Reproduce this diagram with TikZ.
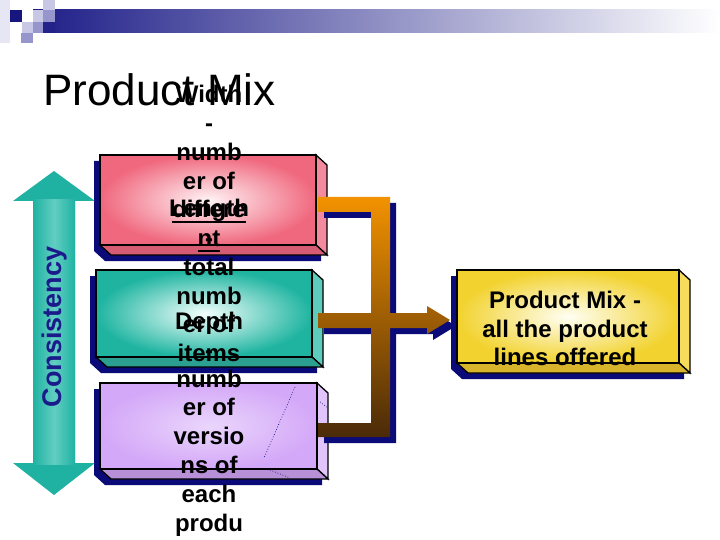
\documentclass[tikz,border=0pt]{standalone}
\usepackage{fontspec}
\setmainfont{Liberation Sans}
\usetikzlibrary{calc}
\definecolor{navyS}{HTML}{0A0A78}
\definecolor{bannerN}{HTML}{1E1E88}
\definecolor{bannerM}{HTML}{A8A8C0}
\definecolor{sqA}{HTML}{E6E6F4}
\definecolor{sqB}{HTML}{16167E}
\definecolor{sqC}{HTML}{C8C8E6}
\definecolor{sqD}{HTML}{9696CC}
\definecolor{sqE}{HTML}{22228A}
\definecolor{pinkO}{HTML}{F0687E}
\definecolor{pinkI}{HTML}{FFF4F6}
\definecolor{pinkS}{HTML}{F48A9E}
\definecolor{pinkB}{HTML}{D65C74}
\definecolor{tealO}{HTML}{1EB4A0}
\definecolor{tealI}{HTML}{F4FFFD}
\definecolor{tealS}{HTML}{5ECCBC}
\definecolor{tealB}{HTML}{2CA090}
\definecolor{vioO}{HTML}{D4A8F8}
\definecolor{vioI}{HTML}{EAD6FC}
\definecolor{vioS}{HTML}{E0C4FA}
\definecolor{vioB}{HTML}{B890D8}
\definecolor{yelO}{HTML}{F2D22E}
\definecolor{yelI}{HTML}{FFFFF4}
\definecolor{yelS}{HTML}{F6DC5A}
\definecolor{yelB}{HTML}{D8B42C}
\definecolor{arrT}{HTML}{1FB2A2}
\definecolor{arrL}{HTML}{62CEC2}
\definecolor{consist}{HTML}{1A1A8A}
\definecolor{barTop}{HTML}{F29200}
\definecolor{barBot}{HTML}{4A2A08}
\newcommand{\myul}[1]{\leavevmode\setbox0=\hbox{#1}\rlap{\vrule height -3.5pt depth 5.5pt width \wd0}\box0}
\tikzset{
  coltext/.style={font=\bfseries\fontsize{24}{28.8}\selectfont, anchor=base, inner sep=0pt},
  edge3d/.style={draw=black, line width=1.3pt, line join=miter},
}
\newcommand{\cubebox}[9]{%
  \fill[navyS] ({#2-6},{#3+6}) -- ({#4-6},{#3+6}) -- ({#4+5},{#3+16}) -- ({#4+5},{#5+16}) -- ({#2+5},{#5+16}) -- ({#2-6},{#5+6}) -- cycle;
  \filldraw[edge3d, fill=#8] (#4,#3) -- ({#4+11},{#3+10}) -- ({#4+11},{#5+10}) -- (#4,#5) -- cycle;
  \filldraw[edge3d, fill=#9] (#2,#5) -- (#4,#5) -- ({#4+11},{#5+10}) -- ({#2+11},{#5+10}) -- cycle;
  \node[edge3d, inner sep=0pt, outer sep=0pt, anchor=north west, minimum width={(#4-#2)*1pt}, minimum height={(#5-#3)*1pt}, inner color=#7, outer color=#6] (#1) at (#2,#3) {};
}
\begin{document}
\begin{tikzpicture}[x=1pt, y=-1pt]
\useasboundingbox (0,0) rectangle (720,540);
\fill[white] (0,0) rectangle (720,540);
% banner
\shade[left color=bannerN, middle color=bannerM, right color=white] (33,10) rectangle (720,33);
\fill[sqA] (0,0) rectangle (10,43);
\fill[sqB] (10,10) rectangle (22,22);
\fill[sqC] (22,22) rectangle (33,33);
\fill[sqD] (21,33) rectangle (33,43);
\fill[sqC] (33,10) rectangle (43,22);
\fill[sqD] (43,10) rectangle (55,22);
\fill[sqC] (43,0) rectangle (55,10);
\fill[sqD] (33,22) rectangle (43,33);
\fill[sqE] (43,22) rectangle (55,33);
% title
\node[anchor=base west, inner sep=0pt, font=\fontsize{44}{52}\selectfont] (title) at (43,106) {Product Mix};
% consistency arrow
\fill[arrT] (54,171) -- (95,201) -- (75,201) -- (75,463) -- (95,463) -- (54,495) -- (13,463) -- (33,463) -- (33,201) -- (13,201) -- cycle;
\shade[left color=arrT, right color=arrL] (33,200) rectangle (54.5,464);
\shade[left color=arrL, right color=arrT] (54,200) rectangle (75,464);
\node[rotate=90, inner sep=0pt, font=\bfseries\fontsize{27}{32}\selectfont, text=consist] (cons) at (55,327) {Consistency};
% pink box + Width text
\cubebox{pinkbox}{100}{155}{316}{245}{pinkO}{pinkI}{pinkS}{pinkB}
\node[coltext] (w1) at (209,103) {Width};
\node[coltext] (w2) at (209,132) {-};
\node[coltext] (w3) at (209,161) {numb};
\node[coltext] (w4) at (209,190) {er of};
\node[coltext] (w5) at (209,218) {\myul{differe}};
\node[coltext] (w6) at (209,247) {\myul{nt}};
% teal box + Length text
\cubebox{tealbox}{96}{270}{312}{357}{tealO}{tealI}{tealS}{tealB}
\node[coltext] (l1) at (209,217) {Length};
\node[coltext] (l2) at (209,246) {-};
\node[coltext] (l3) at (209,275) {total};
\node[coltext] (l4) at (209,304) {numb};
\node[coltext] (l5) at (209,332) {er of};
\node[coltext] (l6) at (209,361) {items};
% violet box + Depth text
\cubebox{violetbox}{100}{383}{317}{469}{vioO}{vioI}{vioS}{vioB}
\draw[navyS, dotted, line width=0.7pt] (295,387) -- (264,458);
\draw[navyS, dotted, line width=0.7pt] (320,402) -- (327,407);
\draw[navyS, dotted, line width=0.7pt] (270,470) -- (290,478);
\node[coltext] (d1) at (209,329) {Depth};
\node[coltext] (d2) at (209,358) {-};
\node[coltext] (d3) at (209,387) {numb};
\node[coltext] (d4) at (209,415) {er of};
\node[coltext] (d5) at (209,444) {versio};
\node[coltext] (d6) at (209,473) {ns of};
\node[coltext] (d7) at (209,502) {each};
\node[coltext] (d8) at (209,531) {produ};
% bracket bars with arrow
\fill[navyS, shift={(6,6)}] (318,197) -- (390,197) -- (390,313) -- (427,313) -- (427,306) -- (450,320) -- (427,334) -- (427,328) -- (390,328) -- (390,437) -- (318,437) -- (318,423) -- (371,423) -- (371,328) -- (318,328) -- (318,313) -- (371,313) -- (371,212) -- (318,212) -- cycle;
\shade[top color=barTop, bottom color=barBot] (318,197) -- (390,197) -- (390,313) -- (427,313) -- (427,306) -- (450,320) -- (427,334) -- (427,328) -- (390,328) -- (390,437) -- (318,437) -- (318,423) -- (371,423) -- (371,328) -- (318,328) -- (318,313) -- (371,313) -- (371,212) -- (318,212) -- cycle;
% yellow box
\cubebox{ybox}{457}{270}{679}{363}{yelO}{yelI}{yelS}{yelB}
\node[coltext] (y1) at (565,308) {Product Mix -};
\node[coltext] (y2) at (565,337) {all the product};
\node[coltext] (y3) at (565,365) {lines offered};
\end{tikzpicture}
\end{document}
